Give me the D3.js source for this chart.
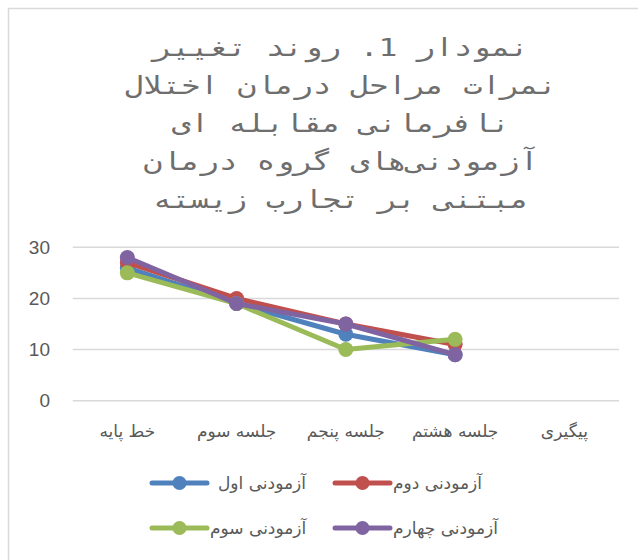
<!DOCTYPE html>
<html>
<head>
<meta charset="utf-8">
<script src="https://cdn.jsdelivr.net/npm/d3@7"></script>
<style>
  body { margin: 0; background: #fff; }
  svg { display: block; }
</style>
</head>
<body>
<div id="chart"></div>
<script>
// chart values
const categories = ['خط پایه', 'جلسه سوم', 'جلسه پنجم', 'جلسه هشتم', 'پیگیری']
const seriesNames = ['آزمودنی اول', 'آزمودنی دوم', 'آزمودنی سوم', 'آزمودنی چهارم']
const subject1 = [26, 19, 13, 9]
const subject2 = [27, 20, 15, 11]
const subject3 = [25, 19, 10, 12]
const subject4 = [28, 19, 15, 9]
const yTicks = [0, 10, 20, 30]
const titleLines = [
  'نمودار 1. روند تغییر',
  'نمرات مراحل درمان اختلال',
  'نافرمانی مقابله ای',
  'آزمودنی‌های گروه درمان',
  'مبتنی بر تجارب زیسته'
]

const colors = ['#4F81BD', '#C0504D', '#9BBB59', '#8064A2']
const series = [subject1, subject2, subject3, subject4]

let width = 638
let height = 560

let svg = d3
  .select('#chart')
  .append('svg')
  .attr('width', width)
  .attr('height', height)

// outer chart frame
svg
  .append('rect')
  .attr('x', 8.5)
  .attr('y', 8.5)
  .attr('width', 700)
  .attr('height', 700)
  .attr('fill', 'none')
  .attr('stroke', '#d9d9d9')
  .attr('stroke-width', 1.5)

// title - monospace, stretched a bit wider like the original
svg
  .append('g')
  .attr('transform', 'translate(341,0) scale(1.25,1)')
  .selectAll('text')
  .data(titleLines)
  .join('text')
  .attr('x', 0)
  .attr('y', (d, i) => 56 + i * 38)
  .attr('text-anchor', 'middle')
  .attr('font-family', 'DejaVu Sans Mono, monospace')
  .attr('font-size', 25)
  .attr('fill', '#6e6e6e')
  .text(d => d)

var xPositionScale = d3.scaleBand().domain(categories).range([72.7, 619])
var yPositionScale = d3.scaleLinear().domain([0, 30]).range([400.7, 247.3])

// gridlines
svg
  .append('g')
  .selectAll('line')
  .data(yTicks)
  .join('line')
  .attr('x1', 72.7)
  .attr('x2', 619)
  .attr('y1', d => yPositionScale(d))
  .attr('y2', d => yPositionScale(d))
  .attr('stroke', '#d9d9d9')
  .attr('stroke-width', 1.5)

// y labels
svg
  .append('g')
  .selectAll('text')
  .data(yTicks)
  .join('text')
  .attr('x', 50)
  .attr('y', d => yPositionScale(d))
  .attr('dy', '0.35em')
  .attr('text-anchor', 'end')
  .attr('font-family', 'Liberation Sans, Arial, sans-serif')
  .attr('font-size', 19)
  .attr('fill', '#595959')
  .text(d => d)

// category labels
svg
  .append('g')
  .selectAll('text')
  .data(categories)
  .join('text')
  .attr('x', d => xPositionScale(d) + xPositionScale.bandwidth() / 2)
  .attr('y', 431)
  .attr('dy', '0.35em')
  .attr('text-anchor', 'middle')
  .attr('font-family', 'DejaVu Sans, sans-serif')
  .attr('font-size', 17)
  .attr('fill', '#595959')
  .text(d => d)

let line = d3
  .line()
  .x((d, i) => xPositionScale(categories[i]) + xPositionScale.bandwidth() / 2)
  .y(d => yPositionScale(d))

series.forEach((values, s) => {
  let g = svg.append('g')
  g.append('path')
    .datum(values)
    .attr('d', line)
    .attr('fill', 'none')
    .attr('stroke', colors[s])
    .attr('stroke-width', 5)
    .attr('stroke-linejoin', 'round')
    .attr('stroke-linecap', 'round')
  g.selectAll('circle')
    .data(values)
    .join('circle')
    .attr('cx', (d, i) => xPositionScale(categories[i]) + xPositionScale.bandwidth() / 2)
    .attr('cy', d => yPositionScale(d))
    .attr('r', 7.5)
    .attr('fill', colors[s])
})

// legend: two columns, two rows
let legend = svg.append('g')
seriesNames.forEach((name, i) => {
  let x0 = i % 2 === 0 ? 152 : 335
  let y0 = Math.floor(i / 2) === 0 ? 483 : 528
  legend.append('line')
    .attr('x1', x0)
    .attr('x2', x0 + 55)
    .attr('y1', y0)
    .attr('y2', y0)
    .attr('stroke', colors[i])
    .attr('stroke-width', 5)
    .attr('stroke-linecap', 'round')
  legend.append('circle')
    .attr('cx', x0 + 27.5)
    .attr('cy', y0)
    .attr('r', 7)
    .attr('fill', colors[i])
  legend.append('text')
    .attr('x', i === 0 ? x0 + 66 : x0 + 58)
    .attr('y', y0)
    .attr('dy', '0.35em')
    .attr('font-family', 'DejaVu Sans, sans-serif')
    .attr('font-size', 17)
    .attr('fill', '#595959')
    .text(name)
})
</script>
</body>
</html>
